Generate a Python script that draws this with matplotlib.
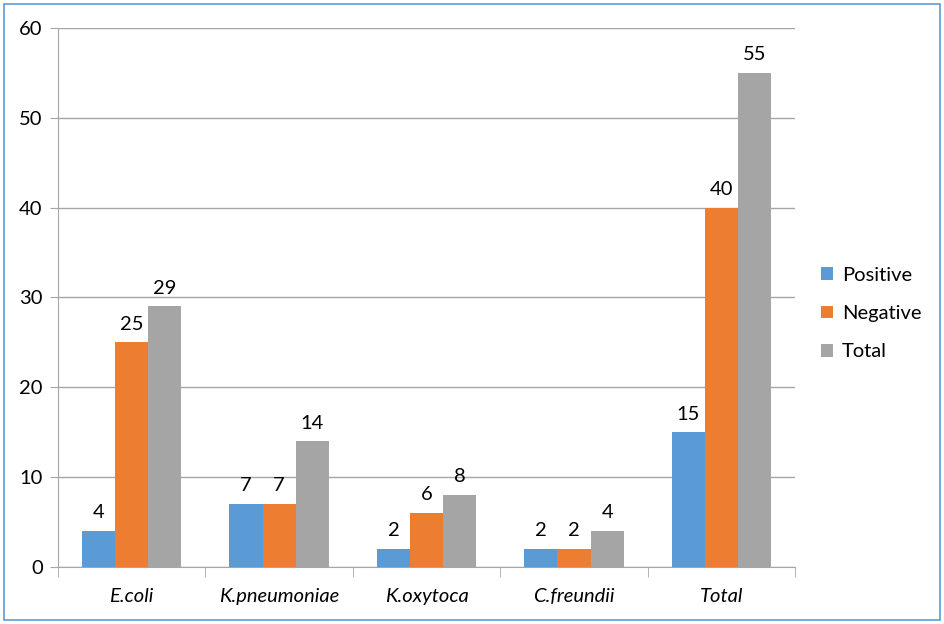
import numpy as np
import matplotlib.pyplot as plt
from matplotlib.patches import Rectangle

categories = ['E.coli', 'K.pneumoniae', 'K.oxytoca', 'C.freundii', 'Total']
positive = [4, 7, 2, 2, 15]
negative = [25, 7, 6, 2, 40]
total = [29, 14, 8, 4, 55]
series_names = ['Positive', 'Negative', 'Total']
colors = ['#5B9BD5', '#ED7D31', '#A5A5A5']

plt.rcParams['font.family'] = ['Lato', 'DejaVu Sans']
fs = 14.5

fig = plt.figure(figsize=(9.44, 6.24), dpi=100)
ax = fig.add_axes([0.0614, 0.0913, 0.781, 0.864])

x = np.arange(len(categories))
w = 0.225
for i, (vals, name) in enumerate(zip([positive, negative, total], series_names)):
    bars = ax.bar(x + (i - 1) * w, vals, w, color=colors[i], label=name, zorder=3)
    ax.bar_label(bars, padding=7, fontsize=fs)

ax.set_xlim(-0.5, len(categories) - 0.5)
ax.set_ylim(0, 60)
ax.set_yticks(range(0, 61, 10))
ax.yaxis.grid(True, color='#A6A6A6', linewidth=1, zorder=0)
ax.set_xticks(x)
ax.set_xticklabels(categories, fontstyle='italic', fontsize=fs)
ax.set_xticks(np.arange(-0.5, len(categories), 1), minor=True)
ax.tick_params(axis='x', which='major', length=0, pad=15)
ax.tick_params(axis='x', which='minor', length=7, color='#A6A6A6')
ax.tick_params(axis='y', length=6, color='#A6A6A6', labelsize=fs, pad=5)
for s in ['top', 'right']:
    ax.spines[s].set_visible(False)
for s in ['left', 'bottom']:
    ax.spines[s].set_color('#A6A6A6')

ax.legend(loc='center left', bbox_to_anchor=(1.01, 0.47), frameon=False,
          fontsize=fs, handlelength=0.6, handleheight=0.6, labelspacing=1.05,
          handletextpad=0.45)

fig.patches.append(Rectangle((0.004, 0.006), 0.992, 0.988, transform=fig.transFigure,
                             fill=False, edgecolor='#5B9BD5', linewidth=1.2))

fig.savefig('out.png', dpi=100)
